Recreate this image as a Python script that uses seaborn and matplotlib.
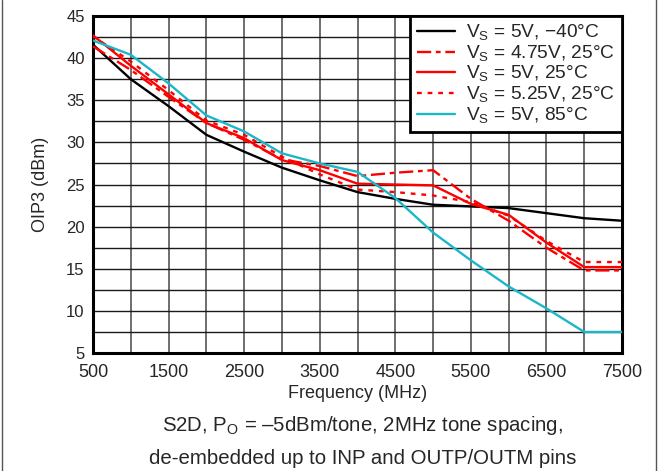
import matplotlib
matplotlib.use("Agg")
import matplotlib.pyplot as plt
from matplotlib.lines import Line2D
import seaborn as sns
import pandas as pd

# data
freq_mhz = [500, 1000, 1500, 2000, 2500, 3000, 3500, 4000, 4500, 5000,
            5500, 6000, 6500, 7000, 7500]
oip3_5v_m40 = [41.6, 37.5, 34.3, 30.9, 28.9, 27.0, 25.5, 24.1, 23.3, 22.6,
               22.4, 22.2, 21.6, 21.0, 20.7]
oip3_475v_25 = [41.4, 38.6, 35.4, 32.3, 30.3, 28.0, 27.2, 26.0, 26.4, 26.7,
                23.3, 20.7, 17.5, 14.8, 14.8]
oip3_5v_25 = [42.7, 39.1, 35.7, 32.3, 30.5, 27.9, 26.7, 25.1, 25.0, 24.9,
              22.7, 21.4, 18.1, 15.2, 15.2]
oip3_525v_25 = [42.6, 39.6, 36.2, 32.6, 30.9, 28.3, 26.2, 24.4, 24.1, 23.7,
                22.9, 21.3, 18.3, 15.8, 15.8]
oip3_5v_85 = [42.1, 40.4, 37.0, 33.2, 31.3, 28.7, 27.5, 26.5, 23.4, 19.3,
              16.0, 12.9, 10.3, 7.5, 7.5]

labels = [r"V$_\mathregular{S}$ = 5V, −40°C",
          r"V$_\mathregular{S}$ = 4.75V, 25°C",
          r"V$_\mathregular{S}$ = 5V, 25°C",
          r"V$_\mathregular{S}$ = 5.25V, 25°C",
          r"V$_\mathregular{S}$ = 5V, 85°C"]
series = [oip3_5v_m40, oip3_475v_25, oip3_5v_25, oip3_525v_25, oip3_5v_85]
colors = ["#000000", "#ff0000", "#ff0000", "#ff0000", "#1bb7c9"]
dash_styles = ["", (6, 2, 2, 2), "", (2, 2.5), ""]

rows = []
for lab, vals in zip(labels, series):
    for f, v in zip(freq_mhz, vals):
        rows.append({"freq": f, "oip3": v, "curve": lab})
df = pd.DataFrame(rows)

sns.set_style("white")
plt.rcParams["font.family"] = ["Liberation Sans", "DejaVu Sans"]
plt.rcParams["mathtext.fontset"] = "custom"
plt.rcParams["mathtext.rm"] = "Liberation Sans"

fig = plt.figure(figsize=(6.61, 4.71), dpi=100)
ax = fig.add_axes([0.1407, 0.2505, 0.8003, 0.7155])

sns.lineplot(data=df, x="freq", y="oip3", hue="curve", style="curve",
             hue_order=labels, style_order=labels,
             palette=dict(zip(labels, colors)),
             dashes=dict(zip(labels, dash_styles)),
             linewidth=1.7, legend=False, ax=ax, zorder=3)

ax.set_xlim(500, 7500)
ax.set_ylim(5, 45)
ax.set_xticks(range(500, 7501, 1000))
ax.set_xticks(range(1000, 7001, 1000), minor=True)
ax.set_yticks(range(5, 46, 5))
ax.set_yticks([7.5 + 5 * i for i in range(8)], minor=True)
ax.tick_params(which="both", length=0)
ax.tick_params(axis="x", labelsize=13, pad=8)
ax.tick_params(axis="y", labelsize=12, pad=6)
ax.xaxis.grid(True, which="both", color="#6e6e6e", linewidth=1.4)
ax.yaxis.grid(True, which="both", color="#1a1a1a", linewidth=1.0)
ax.set_axisbelow(True)
for sp in ax.spines.values():
    sp.set_visible(True)
    sp.set_color("black")
    sp.set_linewidth(2.2)

ax.set_xlabel("Frequency (MHz)", fontsize=13, labelpad=3)
ax.set_ylabel("OIP3 (dBm)", fontsize=13, labelpad=12)

leg = ax.legend(handles=ax.lines[:5], labels=labels, loc="upper right",
                fontsize=13.8, frameon=True, fancybox=False,
                borderaxespad=0, handlelength=2.0, labelspacing=0.02,
                borderpad=0.35, handletextpad=0.6)
leg.get_frame().set_edgecolor("black")
leg.get_frame().set_linewidth(2.0)
leg.get_frame().set_alpha(1)

fig.text(0.548, 0.097, r"S2D, P$_\mathregular{O}$ = –5dBm/tone, 2MHz tone spacing,",
         ha="center", va="center", fontsize=14.7)
fig.text(0.548, 0.027, "de-embedded up to INP and OUTP/OUTM pins",
         ha="center", va="center", fontsize=14.7)

fig.add_artist(Line2D([0.0025, 0.0025], [0, 1], transform=fig.transFigure,
                      color="#555555", linewidth=1))
fig.add_artist(Line2D([0.992, 0.992], [0, 1], transform=fig.transFigure,
                      color="#555555", linewidth=1))

fig.savefig("out.png", dpi=100)
plt.close(fig)
